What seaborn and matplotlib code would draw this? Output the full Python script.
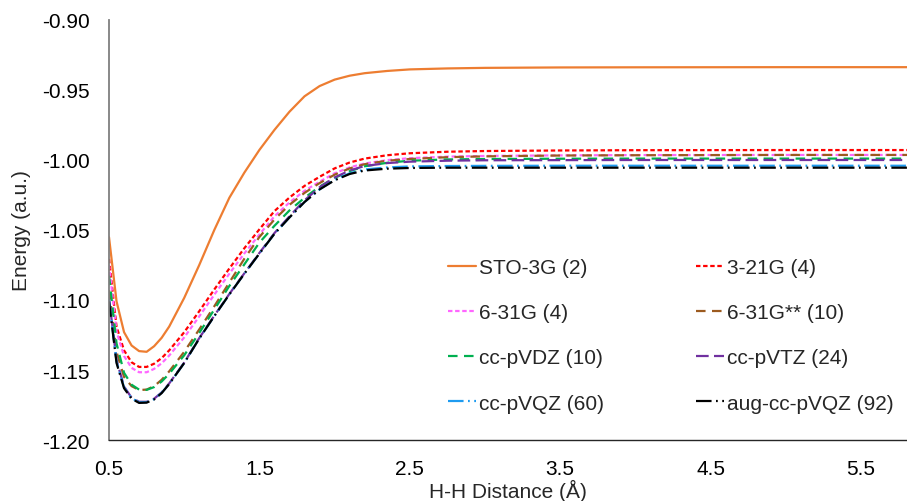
import pandas as pd
import matplotlib
matplotlib.use('Agg')
import matplotlib.pyplot as plt
import seaborn as sns

# H-H distance in Angstrom (same grid for every basis set)
distance = [0.5, 0.55, 0.6, 0.65, 0.7, 0.75, 0.8, 0.85, 0.9, 1.0, 1.1, 1.2, 1.3, 1.4,
            1.5, 1.6, 1.7, 1.8, 1.9, 2.0, 2.1, 2.2, 2.35, 2.5, 2.75, 3.0, 3.5, 4.0,
            5.0, 6.0]

# energies in a.u.
sto_3g = [-1.0552, -1.1010, -1.1230, -1.1325, -1.1365, -1.1370, -1.1330, -1.1270,
          -1.1190, -1.0985, -1.0750, -1.0500, -1.0270, -1.0090, -0.9928, -0.9785,
          -0.9655, -0.9545, -0.9472, -0.9426, -0.9398, -0.9380, -0.9364, -0.9353,
          -0.9346, -0.9342, -0.9339, -0.9338, -0.9337, -0.9337]
b3_21g = [-1.0707, -1.1190, -1.1360, -1.1445, -1.1478, -1.1478, -1.1455, -1.1415,
          -1.1360, -1.1230, -1.1080, -1.0925, -1.0775, -1.0630, -1.0495, -1.0365,
          -1.0268, -1.0185, -1.0120, -1.0060, -1.0018, -0.9990, -0.9966, -0.9952,
          -0.9941, -0.9936, -0.9932, -0.9930, -0.9929, -0.9929]
b6_31g = [-1.0750, -1.1225, -1.1400, -1.1485, -1.1516, -1.1516, -1.1492, -1.1452,
          -1.1397, -1.1267, -1.1117, -1.0962, -1.0812, -1.0667, -1.0532, -1.0402,
          -1.0303, -1.0220, -1.0155, -1.0095, -1.0053, -1.0025, -1.0001, -0.9987,
          -0.9976, -0.9971, -0.9967, -0.9965, -0.9964, -0.9964]
b6_31gss = [-1.0930, -1.1370, -1.1550, -1.1615, -1.1643, -1.1640, -1.1615, -1.1570,
            -1.1510, -1.1370, -1.1210, -1.1045, -1.0875, -1.0705, -1.0550, -1.0425,
            -1.0320, -1.0235, -1.0165, -1.0105, -1.0060, -1.0030, -1.0005, -0.9993,
            -0.9980, -0.9974, -0.9968, -0.9966, -0.9964, -0.9964]
cc_pvdz = [-1.0826, -1.1310, -1.1520, -1.1605, -1.1640, -1.1642, -1.1622, -1.1582,
           -1.1527, -1.1395, -1.1235, -1.1068, -1.0900, -1.0745, -1.0590, -1.0470,
           -1.0360, -1.0270, -1.0190, -1.0128, -1.0080, -1.0045, -1.0020, -1.0005,
           -0.9996, -0.9993, -0.9991, -0.9990, -0.9990, -0.9990]
cc_pvtz = [-1.0990, -1.1430, -1.1618, -1.1698, -1.1727, -1.1727, -1.1705, -1.1660,
           -1.1596, -1.1447, -1.1272, -1.1112, -1.0957, -1.0809, -1.0664, -1.0522,
           -1.0402, -1.0288, -1.0195, -1.0125, -1.0075, -1.0043, -1.0022, -1.0012,
           -1.0005, -1.0002, -1.0001, -1.0000, -1.0000, -1.0000]
cc_pvqz = [-1.1000, -1.1440, -1.1625, -1.1702, -1.1731, -1.1730, -1.1708, -1.1663,
           -1.1600, -1.1450, -1.1275, -1.1115, -1.0960, -1.0812, -1.0668, -1.0527,
           -1.0410, -1.0300, -1.0210, -1.0142, -1.0095, -1.0068, -1.0053, -1.0046,
           -1.0043, -1.0042, -1.0041, -1.0041, -1.0041, -1.0041]
aug_cc_pvqz = [-1.1010, -1.1450, -1.1630, -1.1705, -1.1735, -1.1733, -1.1710, -1.1665,
               -1.1600, -1.1450, -1.1275, -1.1115, -1.0960, -1.0812, -1.0668, -1.0527,
               -1.0410, -1.0300, -1.0210, -1.0145, -1.0100, -1.0075, -1.0062, -1.0057,
               -1.0055, -1.0055, -1.0055, -1.0055, -1.0055, -1.0055]

basis_labels = ['STO-3G (2)', '3-21G (4)', '6-31G (4)', '6-31G** (10)',
                'cc-pVDZ (10)', 'cc-pVTZ (24)', 'cc-pVQZ (60)', 'aug-cc-pVQZ (92)']
series = [sto_3g, b3_21g, b6_31g, b6_31gss, cc_pvdz, cc_pvtz, cc_pvqz, aug_cc_pvqz]

colors = ['#ED7D31', '#FF0000', '#FF66FF', '#9C5B1F',
          '#00B050', '#7030A0', '#1E9BF0', '#000000']
dash_styles = ['', (2, 1.2), (2, 1.2), (4.3, 2.9),
               (4.3, 2.9), (5.7, 2.4), (7, 2, 0.8, 2), (7, 2, 0.8, 2)]

rows = []
for label, vals in zip(basis_labels, series):
    for d, e in zip(distance, vals):
        rows.append({'distance': d, 'energy': e, 'basis': label})
df = pd.DataFrame(rows)

sns.set_style('white')
plt.rcParams['font.family'] = ['Liberation Sans', 'DejaVu Sans']
fs = 15

fig = plt.figure(figsize=(9.07, 5.02), dpi=100)
ax = fig.add_axes([0.1202, 0.1215, 0.8798, 0.8367])

sns.lineplot(data=df, x='distance', y='energy', hue='basis', style='basis',
             hue_order=basis_labels, style_order=basis_labels,
             palette=dict(zip(basis_labels, colors)),
             dashes=dict(zip(basis_labels, dash_styles)),
             linewidth=1.6, sort=False, ax=ax)

ax.set_xlim(0.5, 5.806)
ax.set_ylim(-1.20, -0.90)
ax.set_xticks([0.5, 1.5, 2.5, 3.5, 4.5, 5.5])
ax.set_xticklabels(['0.5', '1.5', '2.5', '3.5', '4.5', '5.5'])
ax.set_yticks([-1.20, -1.15, -1.10, -1.05, -1.00, -0.95, -0.90])
ax.set_yticklabels(['-1.20', '-1.15', '-1.10', '-1.05', '-1.00', '-0.95', '-0.90'])

for s in ['top', 'right']:
    ax.spines[s].set_visible(False)
ax.spines['left'].set_color('#7F7F7F')
ax.spines['left'].set_linewidth(1.3)
ax.spines['bottom'].set_color('#262626')
ax.spines['bottom'].set_linewidth(1.0)

ax.tick_params(axis='y', direction='in', length=5, width=1.1, color='#595959',
               pad=14, labelsize=fs, labelcolor='black')
ax.tick_params(axis='x', direction='inout', length=9, width=1.0, color='#262626',
               pad=9, labelsize=fs, labelcolor='black')

ax.set_xlabel('H-H Distance (Å)', fontsize=fs, labelpad=1)
ax.set_ylabel('Energy (a.u.)', fontsize=fs, labelpad=8)

# seaborn fills columns first; reorder so the legend reads row by row
handles, labels = ax.get_legend_handles_labels()
order = [0, 2, 4, 6, 1, 3, 5, 7]
ax.legend([handles[i] for i in order], [labels[i] for i in order],
          ncol=2, frameon=False, fontsize=fs,
          loc='upper left', bbox_to_anchor=(0.401, 0.477),
          handlelength=1.35, handletextpad=0.15, labelspacing=1.25,
          columnspacing=4.4)

plt.savefig('out.png', dpi=100)
